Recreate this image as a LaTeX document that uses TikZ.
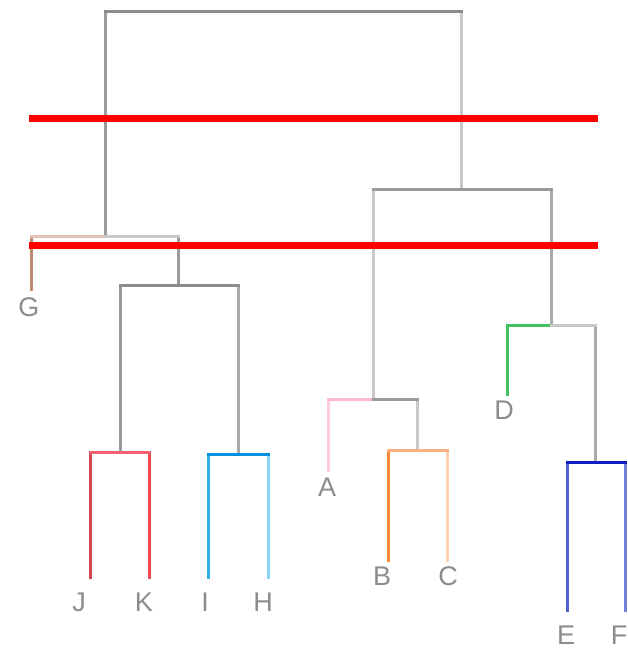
\documentclass[tikz,border=0pt]{standalone}
\usepackage{fontspec}
\setmainfont{Liberation Sans}
\begin{document}
\begin{tikzpicture}[x=1pt,y=-1pt,
  br/.style={line width=3pt,line cap=rect},
  cutline/.style={line width=7pt,draw={rgb,255:red,255;green,0;blue,0}},
  lbl/.style={text={rgb,255:red,140;green,140;blue,140},font=\fontsize{27}{27}\selectfont,inner sep=0pt,anchor=center}]
\definecolor{gA}{HTML}{8C8C8C}
\definecolor{gB}{HTML}{9A9A9A}
\definecolor{gC}{HTML}{C8C8C8}
\definecolor{gD}{HTML}{AAAAAA}
\definecolor{brL}{HTML}{E2C4B4}
\definecolor{brD}{HTML}{C08A70}
\definecolor{rdA}{HTML}{F06070}
\definecolor{rdJ}{HTML}{D04A50}
\definecolor{rdK}{HTML}{F04A50}
\definecolor{blI}{HTML}{0090E0}
\definecolor{blI2}{HTML}{30B0E8}
\definecolor{blH}{HTML}{88D4F4}
\definecolor{pkA}{HTML}{FFB8D0}
\definecolor{pkA2}{HTML}{FFCCE0}
\definecolor{orB}{HTML}{FFB080}
\definecolor{orB2}{HTML}{FF8838}
\definecolor{orC}{HTML}{FFD0B0}
\definecolor{grD}{HTML}{40C060}
\definecolor{bE}{HTML}{1020C0}
\definecolor{bE2}{HTML}{5060D0}
\definecolor{bF}{HTML}{7080D8}
\useasboundingbox (0,0) rectangle (628,650);
% merge corners
\coordinate (rootL) at (105,12);
\coordinate (rootR) at (461,12);
\coordinate (Lm) at (105,236);
\coordinate (Lg) at (31,236);
\coordinate (Lr) at (178,236);
\coordinate (Pm) at (178,285);
\coordinate (Pl) at (120,285);
\coordinate (Pr) at (238,285);
\coordinate (JKl) at (90,452);
\coordinate (JKm) at (120,452);
\coordinate (JKr) at (149,452);
\coordinate (IHl) at (208,454);
\coordinate (IHm) at (238,454);
\coordinate (IHr) at (268,454);
\coordinate (Rm) at (461,189);
\coordinate (Rl) at (373,189);
\coordinate (Rr) at (551,189);
\coordinate (Al) at (328,399);
\coordinate (Am) at (373,399);
\coordinate (Ar) at (417,399);
\coordinate (BCl) at (388,450);
\coordinate (BCm) at (417,450);
\coordinate (BCr) at (447,450);
\coordinate (Dl) at (507,325);
\coordinate (Dm) at (551,325);
\coordinate (Dr) at (595,325);
\coordinate (EFl) at (567,462);
\coordinate (EFm) at (595,462);
\coordinate (EFr) at (625,462);
% leaf ends
\coordinate (gEnd) at (31,289);
\coordinate (jEnd) at (90,577);
\coordinate (kEnd) at (149,577);
\coordinate (iEnd) at (208,577);
\coordinate (hEnd) at (268,577);
\coordinate (aEnd) at (328,470);
\coordinate (bEnd) at (388,560);
\coordinate (cEnd) at (447,560);
\coordinate (dEnd) at (507,394);
\coordinate (eEnd) at (567,610);
\coordinate (fEnd) at (625,610);
% labels
\node[lbl] (G) at (29,307) {G};
\node[lbl] (J) at (79,602) {J};
\node[lbl] (K) at (144,602) {K};
\node[lbl] (I) at (205,602) {I};
\node[lbl] (H) at (263,602) {H};
\node[lbl] (A) at (327,487) {A};
\node[lbl] (B) at (382,576) {B};
\node[lbl] (C) at (448,576) {C};
\node[lbl] (D) at (504,410) {D};
\node[lbl] (E) at (566,635) {E};
\node[lbl] (F) at (619,635) {F};
% root
\draw[br,gB] (rootL) -- (Lm);
\draw[br,gC] (rootR) -- (Rm);
\draw[br,gA] (rootL) -- (rootR);
% left cluster
\draw[br,brD] (Lg) -- (gEnd);
\draw[br,gB] (Lr) -- (Pm);
\draw[br,brL] (Lg) -- (Lm);
\draw[br,gC] (Lm) -- (Lr);
\draw[br,gB] (Pl) -- (JKm);
\draw[br,gD] (Pr) -- (IHm);
\draw[br,gA] (Pl) -- (Pr);
\draw[br,rdJ] (JKl) -- (jEnd);
\draw[br,rdK] (JKr) -- (kEnd);
\draw[br,rdA] (JKl) -- (JKr);
\draw[br,blI2] (IHl) -- (iEnd);
\draw[br,blH] (IHr) -- (hEnd);
\draw[br,blI] (IHl) -- (IHr);
% right cluster
\draw[br,gC] (Rl) -- (Am);
\draw[br,gD] (Rr) -- (Dm);
\draw[br,gB] (Rl) -- (Rr);
\draw[br,pkA2] (Al) -- (aEnd);
\draw[br,gC] (Ar) -- (BCm);
\draw[br,pkA] (Al) -- (Am);
\draw[br,gB] (Am) -- (Ar);
\draw[br,orB2] (BCl) -- (bEnd);
\draw[br,orC] (BCr) -- (cEnd);
\draw[br,orB] (BCl) -- (BCr);
\draw[br,grD] (Dl) -- (dEnd);
\draw[br,gD] (Dr) -- (EFm);
\draw[br,grD] (Dl) -- (Dm);
\draw[br,gC] (Dm) -- (Dr);
\draw[br,bE2] (EFl) -- (eEnd);
\draw[br,bF] (EFr) -- (fEnd);
\draw[br,bE] (EFl) -- (EFr);
% cut lines
\coordinate (cut1a) at (29,119);
\coordinate (cut1b) at (598,119);
\coordinate (cut2a) at (29,245);
\coordinate (cut2b) at (598,245);
\draw[cutline] (cut1a) -- (cut1b);
\draw[cutline] (cut2a) -- (cut2b);
\end{tikzpicture}
\end{document}
